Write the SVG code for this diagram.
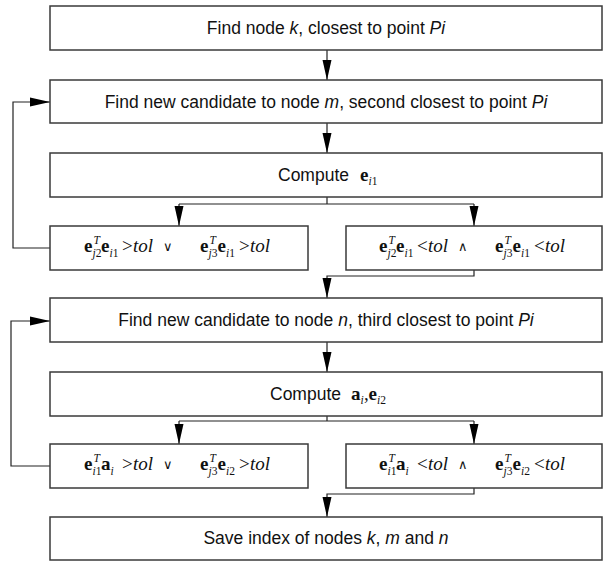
<svg xmlns="http://www.w3.org/2000/svg" width="604" height="561" viewBox="0 0 604 561">
<style>
.box{fill:#fff;stroke:#3a3a3a;stroke-width:1.5}
.ln{fill:none;stroke:#222;stroke-width:1.2}
.t{font-family:"Liberation Sans",Arial,sans-serif;font-size:17.5px;fill:#111;text-anchor:middle}
.m{font-family:"Liberation Serif","Times New Roman",serif;font-size:19px;fill:#111}
.b{font-weight:bold}
.i{font-style:italic}
.s{font-size:11.5px}
.op{font-family:"DejaVu Sans",sans-serif;font-size:13px}
</style>
<defs>
<marker id="ah" markerWidth="20" markerHeight="10" refX="20" refY="5" orient="auto" markerUnits="userSpaceOnUse">
<path d="M0,0.5 L20,5 L0,9.5 z" fill="#000"/>
</marker>
</defs>
<g id="connectors" class="ln">
<path d="M327,50 V80" marker-end="url(#ah)"/>
<path d="M327,123 V153" marker-end="url(#ah)"/>
<path d="M327,197 V204 M179,204 H474"/>
<path d="M179,204 V226" marker-end="url(#ah)"/>
<path d="M474,204 V226" marker-end="url(#ah)"/>
<path d="M50,248 H13 V102 H50" marker-end="url(#ah)"/>
<path d="M474,270 V276 H327 V298" marker-end="url(#ah)"/>
<path d="M327,342 V372" marker-end="url(#ah)"/>
<path d="M327,416 V421 M179,421 H474"/>
<path d="M179,421 V444" marker-end="url(#ah)"/>
<path d="M474,421 V444" marker-end="url(#ah)"/>
<path d="M50,466 H11 V321 H50" marker-end="url(#ah)"/>
<path d="M474,488 V494 H327 V517" marker-end="url(#ah)"/>
</g>
<g id="n1"><rect class="box" x="50" y="6" width="552" height="44"/>
<text class="t" x="326" y="34">Find node <tspan class="i">k</tspan>, closest to point <tspan class="i">Pi</tspan></text></g>
<g id="n2"><rect class="box" x="50" y="80" width="552" height="43"/>
<text class="t" x="326" y="108">Find new candidate to node <tspan class="i">m</tspan>, second closest to point <tspan class="i">Pi</tspan></text></g>
<g id="n3"><rect class="box" x="50" y="153" width="552" height="44"/>
<text class="t" x="278" y="181" style="text-anchor:start">Compute</text>
<text class="m"><tspan class="b" x="360" y="181">e</tspan><tspan class="i s" x="368.5" y="185">i</tspan><tspan class="s" y="185">1</tspan></text></g>
<g id="n4a"><rect class="box" x="50" y="226" width="258" height="44"/>
<g transform="translate(84,252)"><text class="m">
<tspan class="b" x="0" y="0">e</tspan><tspan class="i s" x="9.5" y="-8">T</tspan><tspan class="i s" x="8.5" y="5">j</tspan><tspan class="s" y="5">2</tspan>
<tspan class="b" x="17" y="0">e</tspan><tspan class="i s" x="25.5" y="5">i</tspan><tspan class="s" y="5">1</tspan>
<tspan x="38" y="0">&gt;</tspan><tspan class="i" x="49" y="0">tol</tspan>
<tspan class="op" x="79" y="-1">∨</tspan>
<tspan class="b" x="116" y="0">e</tspan><tspan class="i s" x="125.5" y="-8">T</tspan><tspan class="i s" x="124.5" y="5">j</tspan><tspan class="s" y="5">3</tspan>
<tspan class="b" x="133.5" y="0">e</tspan><tspan class="i s" x="142" y="5">i</tspan><tspan class="s" y="5">1</tspan>
<tspan x="155" y="0">&gt;</tspan><tspan class="i" x="166" y="0">tol</tspan>
</text></g></g>
<g id="n4b"><rect class="box" x="346" y="226" width="256" height="44"/>
<g transform="translate(379,252)"><text class="m">
<tspan class="b" x="0" y="0">e</tspan><tspan class="i s" x="9.5" y="-8">T</tspan><tspan class="i s" x="8.5" y="5">j</tspan><tspan class="s" y="5">2</tspan>
<tspan class="b" x="17" y="0">e</tspan><tspan class="i s" x="25.5" y="5">i</tspan><tspan class="s" y="5">1</tspan>
<tspan x="38" y="0">&lt;</tspan><tspan class="i" x="49" y="0">tol</tspan>
<tspan class="op" x="79" y="-1">∧</tspan>
<tspan class="b" x="116" y="0">e</tspan><tspan class="i s" x="125.5" y="-8">T</tspan><tspan class="i s" x="124.5" y="5">j</tspan><tspan class="s" y="5">3</tspan>
<tspan class="b" x="133.5" y="0">e</tspan><tspan class="i s" x="142" y="5">i</tspan><tspan class="s" y="5">1</tspan>
<tspan x="155" y="0">&lt;</tspan><tspan class="i" x="166" y="0">tol</tspan>
</text></g></g>
<g id="n5"><rect class="box" x="50" y="298" width="552" height="44"/>
<text class="t" x="326" y="326">Find new candidate to node <tspan class="i">n</tspan>, third closest to point <tspan class="i">Pi</tspan></text></g>
<g id="n6"><rect class="box" x="50" y="372" width="552" height="44"/>
<text class="t" x="270" y="400" style="text-anchor:start">Compute</text>
<text class="m"><tspan class="b" x="351" y="400">a</tspan><tspan class="i s" x="360.5" y="404">i</tspan><tspan x="364" y="400">,</tspan><tspan class="b" x="368.5" y="400">e</tspan><tspan class="i s" x="377" y="404">i</tspan><tspan class="s" y="404">2</tspan></text></g>
<g id="n7a"><rect class="box" x="50" y="444" width="258" height="44"/>
<g transform="translate(84,470)"><text class="m">
<tspan class="b" x="0" y="0">e</tspan><tspan class="i s" x="9.5" y="-8">T</tspan><tspan class="i s" x="8.5" y="5">i</tspan><tspan class="s" y="5">1</tspan>
<tspan class="b" x="17" y="0">a</tspan><tspan class="i s" x="26.5" y="5">i</tspan>
<tspan x="38" y="0">&gt;</tspan><tspan class="i" x="49" y="0">tol</tspan>
<tspan class="op" x="79" y="-1">∨</tspan>
<tspan class="b" x="116" y="0">e</tspan><tspan class="i s" x="125.5" y="-8">T</tspan><tspan class="i s" x="124.5" y="5">j</tspan><tspan class="s" y="5">3</tspan>
<tspan class="b" x="133.5" y="0">e</tspan><tspan class="i s" x="142" y="5">i</tspan><tspan class="s" y="5">2</tspan>
<tspan x="155" y="0">&gt;</tspan><tspan class="i" x="166" y="0">tol</tspan>
</text></g></g>
<g id="n7b"><rect class="box" x="346" y="444" width="256" height="44"/>
<g transform="translate(379,470)"><text class="m">
<tspan class="b" x="0" y="0">e</tspan><tspan class="i s" x="9.5" y="-8">T</tspan><tspan class="i s" x="8.5" y="5">i</tspan><tspan class="s" y="5">1</tspan>
<tspan class="b" x="17" y="0">a</tspan><tspan class="i s" x="26.5" y="5">i</tspan>
<tspan x="38" y="0">&lt;</tspan><tspan class="i" x="49" y="0">tol</tspan>
<tspan class="op" x="79" y="-1">∧</tspan>
<tspan class="b" x="116" y="0">e</tspan><tspan class="i s" x="125.5" y="-8">T</tspan><tspan class="i s" x="124.5" y="5">j</tspan><tspan class="s" y="5">3</tspan>
<tspan class="b" x="133.5" y="0">e</tspan><tspan class="i s" x="142" y="5">i</tspan><tspan class="s" y="5">2</tspan>
<tspan x="155" y="0">&lt;</tspan><tspan class="i" x="166" y="0">tol</tspan>
</text></g></g>
<g id="n8"><rect class="box" x="50" y="517" width="552" height="43"/>
<text class="t" x="326" y="544">Save index of nodes <tspan class="i">k</tspan>, <tspan class="i">m</tspan> and <tspan class="i">n</tspan></text></g>
</svg>
